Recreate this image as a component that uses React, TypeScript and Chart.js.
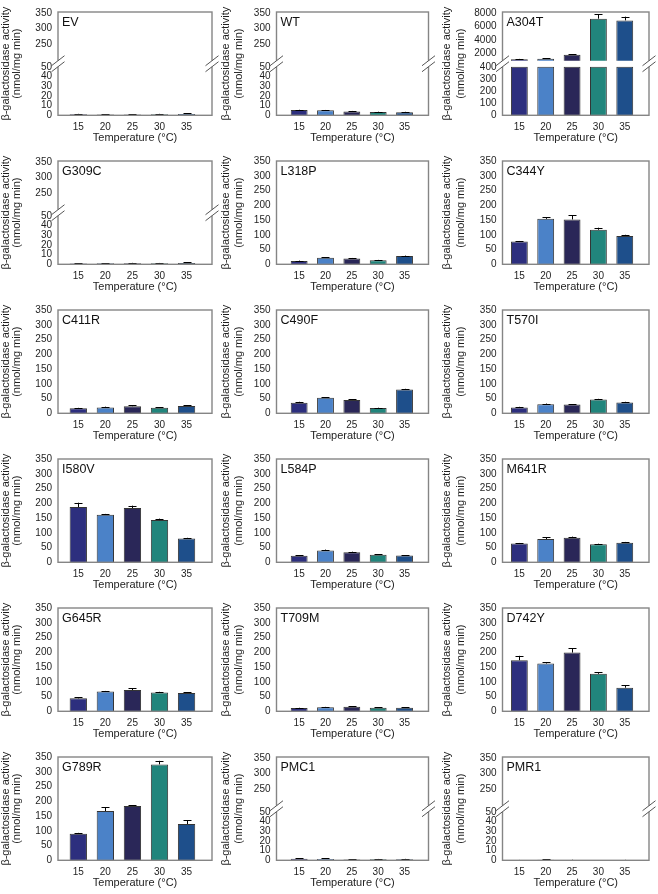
import React, { useEffect, useRef } from "react";
import { Chart, registerables } from "chart.js";

Chart.register(...registerables);
Chart.defaults.font.family = "'Liberation Sans', Arial, Helvetica, sans-serif";

// ---------- data ----------
const temperatures = [15, 20, 25, 30, 35];
const barColors = ["#2d2f7e", "#4b82c8", "#2a2758", "#21857c", "#1e4f8b"];

const evValues = [1.0, 0.8, 0.9, 1.0, 1.4];
const evErrors = [0.5, 0.4, 0.4, 0.5, 0.7];
const wtValues = [5.4, 5.1, 3.9, 3.5, 3.2];
const wtErrors = [0.3, 0.4, 0.6, 0.3, 0.4];
const a304tValues = [1150, 1220, 1800, 7150, 6900];
const a304tErrors = [50, 60, 60, 650, 550];
const g309cValues = [0.9, 1.0, 1.1, 1.0, 1.3];
const g309cErrors = [0.4, 0.3, 0.4, 0.4, 0.6];
const l318pValues = [11, 22, 20, 14, 28];
const l318pErrors = [1.5, 1.5, 1.5, 1, 1.5];
const c344yValues = [77, 154, 152, 117, 96];
const c344yErrors = [2, 5, 15, 7, 4];
const c411rValues = [17, 20, 24, 19, 25];
const c411rErrors = [1.5, 2.5, 3, 1.5, 2];
const c490fValues = [36, 53, 45, 18, 81];
const c490fErrors = [3, 1.5, 3, 1, 2];
const t570iValues = [20, 31, 30, 47, 37];
const t570iErrors = [2, 2, 1, 2, 2];
const i580vValues = [187, 161, 184, 143, 81];
const i580vErrors = [15, 3, 8, 5, 2];
const l584pValues = [22, 40, 34, 26, 23];
const l584pErrors = [1.5, 3, 2, 1.5, 1.5];
const m641rValues = [64, 79, 83, 61, 66];
const m641rErrors = [1.5, 6, 4, 2, 3];
const g645rValues = [44, 67, 72, 64, 62];
const g645rErrors = [4, 2, 6, 2, 2];
const t709mValues = [11, 14, 15, 12, 12];
const t709mErrors = [1, 1, 1.5, 1, 1.5];
const d742yValues = [173, 162, 199, 127, 80];
const d742yErrors = [15, 5, 15, 6, 8];
const g789rValues = [90, 167, 184, 325, 123];
const g789rErrors = [3, 12, 2, 12, 13];
const pmc1Values = [1.5, 1.4, 0.8, 1.0, 1.1];
const pmc1Errors = [0.5, 0.5, 0.3, 0.4, 0.4];
const pmr1Values = [0.2, 0.6, 0.3, 0.1, 0.3];
const pmr1Errors = [0.2, 0.4, 0.3, 0.1, 0.2];

const normalTicks = [0, 50, 100, 150, 200, 250, 300, 350];
const smallLowTicks = [0, 10, 20, 30, 40, 50];
const smallHighTicks = [250, 300, 350];
const largeLowTicks = [0, 100, 200, 300, 400];
const largeHighTicks = [2000, 4000, 6000, 8000];

const yTitleLines = ["\u03B2-galactosidase activity", "(nmol/mg min)"];
const xTitle = "Temperature (\u00B0C)";

type AxisSpec =
  | { kind: "normal"; min: number; max: number; ticks: number[] }
  | {
      kind: "broken";
      low: { min: number; max: number; cap: number; ticks: number[] };
      high: { min: number; max: number; ticks: number[] };
    };

const normalAxis: AxisSpec = { kind: "normal", min: 0, max: 350, ticks: normalTicks };
const smallBrokenAxis: AxisSpec = {
  kind: "broken",
  low: { min: 0, max: 56.25, cap: 50, ticks: smallLowTicks },
  high: { min: 197, max: 353, ticks: smallHighTicks },
};
const largeBrokenAxis: AxisSpec = {
  kind: "broken",
  low: { min: 0, max: 450, cap: 400, ticks: largeLowTicks },
  high: { min: 930, max: 8140, ticks: largeHighTicks },
};

const panels = [
  { name: "EV", values: evValues, errors: evErrors, axis: smallBrokenAxis },
  { name: "WT", values: wtValues, errors: wtErrors, axis: smallBrokenAxis },
  { name: "A304T", values: a304tValues, errors: a304tErrors, axis: largeBrokenAxis },
  { name: "G309C", values: g309cValues, errors: g309cErrors, axis: smallBrokenAxis },
  { name: "L318P", values: l318pValues, errors: l318pErrors, axis: normalAxis },
  { name: "C344Y", values: c344yValues, errors: c344yErrors, axis: normalAxis },
  { name: "C411R", values: c411rValues, errors: c411rErrors, axis: normalAxis },
  { name: "C490F", values: c490fValues, errors: c490fErrors, axis: normalAxis },
  { name: "T570I", values: t570iValues, errors: t570iErrors, axis: normalAxis },
  { name: "I580V", values: i580vValues, errors: i580vErrors, axis: normalAxis },
  { name: "L584P", values: l584pValues, errors: l584pErrors, axis: normalAxis },
  { name: "M641R", values: m641rValues, errors: m641rErrors, axis: normalAxis },
  { name: "G645R", values: g645rValues, errors: g645rErrors, axis: normalAxis },
  { name: "T709M", values: t709mValues, errors: t709mErrors, axis: normalAxis },
  { name: "D742Y", values: d742yValues, errors: d742yErrors, axis: normalAxis },
  { name: "G789R", values: g789rValues, errors: g789rErrors, axis: normalAxis },
  { name: "PMC1", values: pmc1Values, errors: pmc1Errors, axis: smallBrokenAxis },
  { name: "PMR1", values: pmr1Values, errors: pmr1Errors, axis: smallBrokenAxis },
];

// ---------- layout (styles) ----------
const PANEL_W = 219;
const PANEL_H = 149;
const PLOT_TOP = 5;
const X_AXIS_H = 33.7;
const columnLayouts = [
  { left: 58, right: 212, xMin: 11.25, xMax: 39.7, t1: 5.5, t2: 16.5 },
  { left: 57.5, right: 209.5, xMin: 10.7, xMax: 39.55, t1: 7, t2: 19.5 },
  { left: 64.5, right: 211, xMin: 11.8, xMax: 39.6, t1: 9, t2: 22.5 },
];
const FRAME_COLOR = "#858585";
const TEXT_COLOR = "#1e1e1e";

type Panel = (typeof panels)[number];
type ColLayout = (typeof columnLayouts)[number];

function tickSetter(values: number[]) {
  return (scale: any) => {
    scale.ticks = values.map((v) => ({ value: v }));
  };
}

const noGrid = { display: false, drawTicks: false, tickLength: 0 };

function yScale(min: number, max: number, ticks: number[], width: number, extra: any = {}) {
  return {
    type: "linear",
    position: "left",
    min,
    max,
    offset: false,
    afterBuildTicks: tickSetter(ticks),
    afterFit: (s: any) => {
      s.width = width;
    },
    grid: noGrid,
    border: { display: false },
    ticks: {
      padding: 6,
      autoSkip: false,
      color: TEXT_COLOR,
      font: { size: 10 },
      callback: (v: any) => String(v),
    },
    ...extra,
  };
}

function buildChart(canvas: HTMLCanvasElement, panel: Panel, lay: ColLayout) {
  const axis = panel.axis;
  const barStyle = {
    backgroundColor: barColors,
    borderColor: "#353535",
    borderWidth: 1,
    barPercentage: 0.64,
    categoryPercentage: 1,
    grouped: false,
  };

  const scales: any = {
    x: {
      type: "linear",
      min: lay.xMin,
      max: lay.xMax,
      offset: false,
      afterBuildTicks: tickSetter(temperatures),
      afterFit: (s: any) => {
        s.height = X_AXIS_H;
      },
      grid: noGrid,
      border: { display: false },
      ticks: {
        padding: 6.3,
        color: TEXT_COLOR,
        font: { size: 10 },
        maxRotation: 0,
        autoSkip: false,
        callback: (v: any) => String(v),
      },
      title: {
        display: true,
        text: xTitle,
        color: TEXT_COLOR,
        font: { size: 11 },
        padding: { top: 0, bottom: 4.7 },
      },
    },
  };

  const datasets: any[] = [];
  if (axis.kind === "normal") {
    scales.y = yScale(axis.min, axis.max, axis.ticks, lay.left);
    datasets.push({
      ...barStyle,
      yAxisID: "y",
      data: temperatures.map((t, i) => ({ x: t, y: panel.values[i] })),
    });
  } else {
    scales.y = yScale(axis.low.min, axis.low.max, axis.low.ticks, lay.left, {
      stack: "v",
      stackWeight: 58.3,
    });
    scales.yUp = yScale(axis.high.min, axis.high.max, axis.high.ticks, lay.left, {
      stack: "v",
      stackWeight: 52,
    });
    datasets.push({
      ...barStyle,
      yAxisID: "y",
      data: temperatures.map((t, i) => ({ x: t, y: Math.min(panel.values[i], axis.low.cap) })),
    });
    datasets.push({
      ...barStyle,
      yAxisID: "yUp",
      data: temperatures.map((t, i) => ({
        x: t,
        y: panel.values[i] > axis.high.min ? panel.values[i] : null,
      })),
    });
  }

  const decor = {
    id: "panelDecor",
    afterDatasetsDraw(chart: any) {
      const ctx = chart.ctx;
      const xs = chart.scales.x;
      ctx.save();
      ctx.strokeStyle = "#000";
      ctx.lineWidth = 1;
      temperatures.forEach((t, i) => {
        const v = panel.values[i];
        const e = panel.errors[i];
        let sc = chart.scales.y;
        if (axis.kind === "broken" && v > axis.high.min) sc = chart.scales.yUp;
        const x = Math.round(xs.getPixelForValue(t)) + 0.5;
        const yv = sc.getPixelForValue(v);
        const yt = sc.getPixelForValue(v + e);
        ctx.beginPath();
        ctx.moveTo(x, yv);
        ctx.lineTo(x, yt);
        ctx.moveTo(x - 4, Math.round(yt) + 0.5);
        ctx.lineTo(x + 4, Math.round(yt) + 0.5);
        ctx.stroke();
      });
      ctx.restore();
    },
    afterDraw(chart: any) {
      const ctx = chart.ctx;
      const a = chart.chartArea;
      ctx.save();
      // frame
      ctx.strokeStyle = FRAME_COLOR;
      ctx.lineWidth = 1.4;
      ctx.strokeRect(a.left, a.top, a.right - a.left, a.bottom - a.top);
      // axis breaks
      if (axis.kind === "broken") {
        const up = chart.scales.yUp;
        const low = chart.scales.y;
        const gapC = (up.bottom + low.getPixelForValue(axis.low.cap)) / 2;
        const c1 = gapC - 3;
        const c2 = gapC + 3;
        [a.left, a.right].forEach((ex) => {
          ctx.fillStyle = "#ffffff";
          ctx.fillRect(ex - 2, c1, 4, c2 - c1);
          ctx.strokeStyle = "#555";
          ctx.lineWidth = 1;
          [c1, c2].forEach((c) => {
            ctx.beginPath();
            ctx.moveTo(ex - 6.5, c + 5);
            ctx.lineTo(ex + 6.5, c - 5);
            ctx.stroke();
          });
        });
      }
      // panel label
      ctx.fillStyle = "#111";
      ctx.font = "12.5px 'Liberation Sans', Arial, sans-serif";
      ctx.textAlign = "left";
      ctx.textBaseline = "alphabetic";
      ctx.fillText(panel.name, a.left + 4, a.top + 14);
      // y title (two lines, rotated)
      const cy = (a.top + a.bottom) / 2;
      ctx.fillStyle = TEXT_COLOR;
      ctx.font = "11px 'Liberation Sans', Arial, sans-serif";
      ctx.textAlign = "center";
      ctx.textBaseline = "middle";
      [lay.t1, lay.t2].forEach((tx, k) => {
        ctx.save();
        ctx.translate(tx, cy);
        ctx.rotate(-Math.PI / 2);
        ctx.fillText(yTitleLines[k], 0, 0);
        ctx.restore();
      });
      ctx.restore();
    },
  };

  return new Chart(canvas, {
    type: "bar",
    data: { datasets },
    options: {
      animation: false,
      responsive: false,
      devicePixelRatio: 1,
      layout: {
        autoPadding: false,
        padding: { top: PLOT_TOP, right: PANEL_W - lay.right, bottom: 0, left: 0 },
      },
      plugins: { legend: { display: false }, tooltip: { enabled: false } },
      scales,
    } as any,
    plugins: [decor],
  });
}

function PanelChart({ panel, col, row }: { panel: Panel; col: number; row: number }) {
  const ref = useRef<HTMLCanvasElement | null>(null);
  useEffect(() => {
    if (!ref.current) return;
    const chart = buildChart(ref.current, panel, columnLayouts[col]);
    return () => chart.destroy();
  }, [panel, col]);
  return (
    <canvas
      ref={ref}
      width={PANEL_W}
      height={PANEL_H}
      style={{
        position: "absolute",
        left: col * PANEL_W,
        top: row * PANEL_H,
        width: PANEL_W,
        height: PANEL_H,
        display: "block",
      }}
    />
  );
}

export default function App() {
  return (
    <div
      style={{
        position: "absolute",
        left: 0,
        top: 0,
        width: 658,
        height: 894,
        background: "#ffffff",
        overflow: "hidden",
      }}
    >
      {panels.map((p, i) => (
        <PanelChart key={p.name} panel={p} col={i % 3} row={Math.floor(i / 3)} />
      ))}
    </div>
  );
}
